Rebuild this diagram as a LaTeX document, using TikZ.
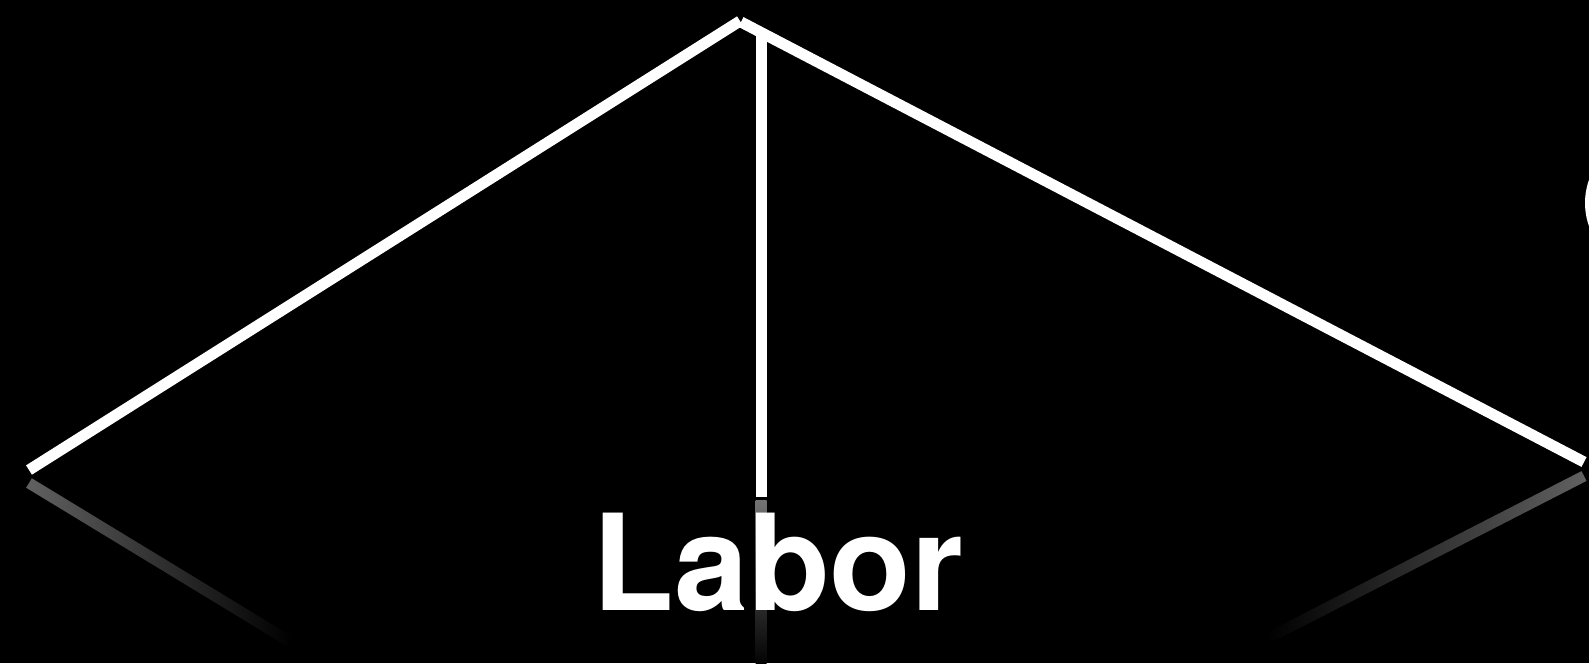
\documentclass[tikz,border=0pt]{standalone}
\usepackage{fontspec}
\newfontfamily\herosfont{TeX Gyre Heros}
\usetikzlibrary{calc}

\begin{document}
\begin{tikzpicture}[
  x=0.01cm, y=-0.01cm,
  beam/.style={draw=white, line width=0.11cm},
  glowleft/.style={left color=white!38!black, middle color=white!16!black, right color=black},
  glowright/.style={left color=black, middle color=white!16!black, right color=white!38!black},
  glowdown/.style={top color=white!45!black, middle color=white!14!black, bottom color=black},
  word/.style={text=white, inner sep=0pt,
               font=\herosfont\bfseries\fontsize{38}{40}\selectfont}
]
\fill[black] (0,0) rectangle (1589,663);
\useasboundingbox (0,0) rectangle (1589,663);

% frame
\coordinate (apexl)     at (740,21);
\coordinate (apexr)     at (741,22);
\coordinate (leftfoot)  at (29,470);
\coordinate (rightfoot) at (1584,462);
\coordinate (stemtop)   at (761,34);
\coordinate (stemfoot)  at (761,497);

% reflections
\coordinate (lrs) at (29,483);
\coordinate (lre) at (289,641);
\coordinate (rrs) at (1584,476);
\coordinate (rre) at (1268,638);

\shade[glowleft] ($(lrs)!0.055cm!90:(lre)$) -- ($(lrs)!0.055cm!-90:(lre)$)
  -- ($(lre)!0.055cm!90:(lrs)$) -- ($(lre)!0.055cm!-90:(lrs)$) -- cycle;
\shade[glowright] ($(rrs)!0.055cm!90:(rre)$) -- ($(rrs)!0.055cm!-90:(rre)$)
  -- ($(rre)!0.055cm!90:(rrs)$) -- ($(rre)!0.055cm!-90:(rrs)$) -- cycle;
\shade[glowdown] (755.5,500) rectangle (766.5,668);

\draw[beam] (apexr) -- (rightfoot);
\draw[beam] (leftfoot) -- (apexl);
\draw[beam] (stemtop) -- (stemfoot);

\node[word, anchor=base] (labor) at (778,610) {Labor};

% cut-off glyph at the right edge
\fill[white] (1620,203) ellipse [x radius=35, y radius=50];
\end{tikzpicture}
\end{document}
